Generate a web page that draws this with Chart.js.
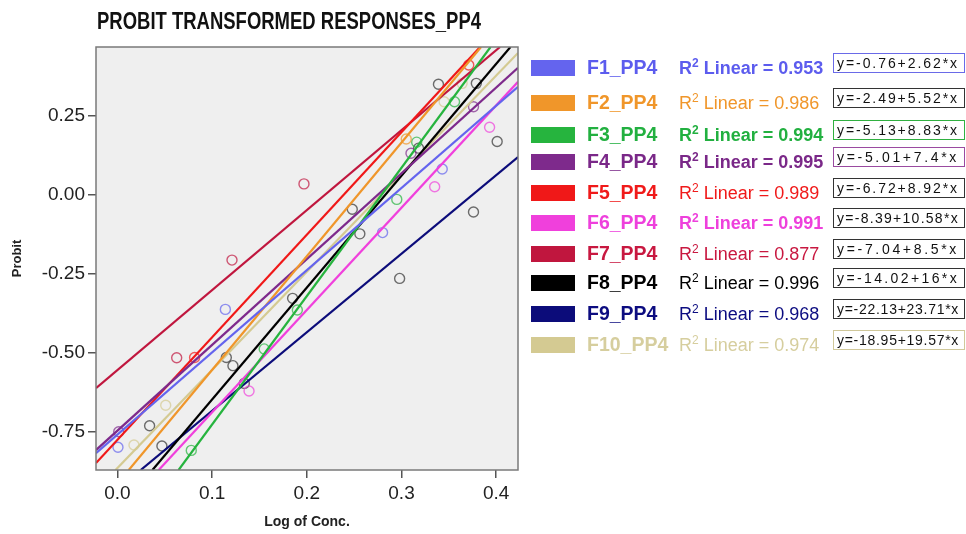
<!DOCTYPE html>
<html>
<head>
<meta charset="utf-8">
<script src="https://cdn.jsdelivr.net/npm/chart.js@4.4.1/dist/chart.umd.min.js"></script>
<style>
  html, body { margin: 0; padding: 0; background: #fff; }
  #wrap { position: relative; width: 966px; height: 534px; font-family: Arial, "Liberation Sans", sans-serif; overflow: hidden; }
  #chart { position: absolute; left: 0; top: 0; }
  #title { position: absolute; left: 97px; top: 7px; font-weight: bold; font-size: 24px; color: #111;
           white-space: nowrap; transform-origin: 0 0; transform: scaleX(0.77); }
  .sw { position: absolute; left: 531px; width: 44px; height: 16px; }
  .lb { position: absolute; left: 587px; font-weight: bold; font-size: 19.5px; line-height: 20px; white-space: nowrap; }
  .r2 { position: absolute; left: 679px; font-size: 18px; line-height: 20px; white-space: nowrap; }
  .r2 sup { font-size: 12px; line-height: 0; }
  .eq { position: absolute; left: 833px; width: 127px; height: 18px; border: 1.5px solid #444; background: #fff;
        font-size: 14px; line-height: 18px; padding-left: 3px; white-space: nowrap; color: #111; }
  .eq span { display: inline-block; }
</style>
</head>
<body>
<div id="wrap">
  <canvas id="chart" width="966" height="534"></canvas>
  <div id="title">PROBIT TRANSFORMED RESPONSES_PP4</div>
  <div id="legend"></div>
</div>
<script>
// series labels and legend text
const seriesNames = ['F1_PP4', 'F2_PP4', 'F3_PP4', 'F4_PP4', 'F5_PP4', 'F6_PP4', 'F7_PP4', 'F8_PP4', 'F9_PP4', 'F10_PP4'];
const r2Values = ['0.953', '0.986', '0.994', '0.995', '0.989', '0.991', '0.877', '0.996', '0.968', '0.974'];
const equations = ['y=-0.76+2.62*x', 'y=-2.49+5.52*x', 'y=-5.13+8.83*x', 'y=-5.01+7.4*x', 'y=-6.72+8.92*x',
                   'y=-8.39+10.58*x', 'y=-7.04+8.5*x', 'y=-14.02+16*x', 'y=-22.13+23.71*x', 'y=-18.95+19.57*x'];

// fitted lines, read where they meet the frame
const fitStartX = [-0.0226, 0.012, 0.0646, -0.0226, -0.0226, 0.0436, -0.0226, 0.037, 0.0246, -0.002];
const fitStartY = [-0.817, -0.870, -0.870, -0.807, -0.848, -0.870, -0.611, -0.870, -0.870, -0.870];
const fitEndX = [0.423, 0.384, 0.394, 0.423, 0.383, 0.423, 0.404, 0.415, 0.423, 0.423];
const fitEndY = [0.342, 0.468, 0.468, 0.402, 0.468, 0.358, 0.468, 0.468, 0.120, 0.449];

// observed points (log conc, probit)
const obsX = [
  [0.0006, 0.114, 0.280, 0.343],
  [0.305],
  [0.078, 0.155, 0.190, 0.295, 0.316, 0.356],
  [0.0014, 0.310, 0.376],
  [0.0815, 0.371],
  [0.139, 0.335, 0.393],
  [0.0626, 0.121, 0.197],
  [0.034, 0.047, 0.115, 0.122, 0.185, 0.248, 0.256, 0.318, 0.339, 0.379],
  [0.134, 0.298, 0.376, 0.401],
  [0.0175, 0.051, 0.345, 0.364]
];
const obsY = [
  [-0.798, -0.362, -0.119, 0.082],
  [0.177],
  [-0.808, -0.487, -0.364, -0.014, 0.167, 0.295],
  [-0.749, 0.132, 0.279],
  [-0.514, 0.411],
  [-0.620, 0.026, 0.214],
  [-0.515, -0.206, 0.035],
  [-0.730, -0.794, -0.514, -0.540, -0.327, -0.045, -0.123, 0.148, 0.350, 0.353],
  [-0.596, -0.264, -0.054, 0.169],
  [-0.791, -0.665, 0.295, 0.353]
];

const xTicks = [0, 0.1, 0.2, 0.3, 0.4];
const yTicks = [-0.75, -0.5, -0.25, 0, 0.25];

const lineColors = ['#6464ee', '#f0962a', '#26b43e', '#7e2a8c', '#f01818', '#f040dc', '#c0163e', '#000000', '#0c0c7a', '#d4ca92'];
const textColors = ['#5c5cee', '#f0962a', '#22b040', '#7a2888', '#f01a1a', '#ee40dc', '#c81840', '#000000', '#0c0c80', '#d6ce9e'];
const boxColors = ['#6a6ae8', '#333333', '#30b040', '#9a4aa0', '#333333', '#333333', '#333333', '#333333', '#333333', '#d0c89a'];
const boldR2 = [true, false, true, true, false, true, false, false, false, false];
const rowY = [68, 103, 135, 162, 193, 223, 254, 283, 314, 345];

function alpha(hex, a) {
  const n = parseInt(hex.slice(1), 16);
  return 'rgba(' + (n >> 16) + ',' + ((n >> 8) & 255) + ',' + (n & 255) + ',' + a + ')';
}

const datasets = [];
seriesNames.forEach((name, i) => {
  datasets.push({
    label: name + ' fit',
    data: [{ x: fitStartX[i], y: fitStartY[i] }, { x: fitEndX[i], y: fitEndY[i] }],
    showLine: true,
    borderColor: lineColors[i],
    borderWidth: 2.2,
    pointRadius: 0,
    order: 1
  });
  datasets.push({
    label: name,
    data: obsX[i].map((x, k) => ({ x: x, y: obsY[i][k] })),
    showLine: false,
    pointStyle: 'circle',
    pointRadius: 5,
    pointBorderWidth: 1.4,
    pointBackgroundColor: 'rgba(0,0,0,0)',
    pointBorderColor: alpha(i === 7 || i === 8 ? '#333333' : lineColors[i], 0.7),
    order: 2
  });
});

const framePlugin = {
  id: 'frame',
  beforeDatasetsDraw(chart) {
    const { ctx, chartArea: a } = chart;
    ctx.save();
    ctx.fillStyle = '#efefef';
    ctx.fillRect(a.left, a.top, a.right - a.left, a.bottom - a.top);
    ctx.restore();
  },
  afterDraw(chart) {
    const { ctx, chartArea: a } = chart;
    ctx.save();
    ctx.strokeStyle = '#7a7a7a';
    ctx.lineWidth = 1.5;
    ctx.strokeRect(a.left, a.top, a.right - a.left, a.bottom - a.top);
    ctx.restore();
  }
};

new Chart(document.getElementById('chart'), {
  type: 'scatter',
  data: { datasets: datasets },
  options: {
    responsive: false,
    animation: false,
    devicePixelRatio: 1,
    layout: { padding: { left: 0, top: 47, right: 448, bottom: 0 } },
    plugins: { legend: { display: false }, tooltip: { enabled: false } },
    scales: {
      x: {
        type: 'linear',
        min: -0.0226,
        max: 0.423,
        afterBuildTicks: (s) => { s.ticks = xTicks.map(v => ({ value: v })); },
        afterFit: (s) => { s.height = 64; },
        border: { display: false },
        grid: { drawOnChartArea: false, drawTicks: true, tickLength: 8, color: '#555', lineWidth: 1.5 },
        ticks: { color: '#222', font: { size: 19, family: 'Arial, "Liberation Sans"' }, padding: 4,
                 callback: (v) => Number(v).toFixed(1) },
        title: { display: true, text: 'Log of Conc.', color: '#222', padding: { top: 0, bottom: 3 },
                 font: { size: 14, weight: 'bold', family: 'Arial, "Liberation Sans"' } }
      },
      y: {
        type: 'linear',
        min: -0.870,
        max: 0.468,
        afterBuildTicks: (s) => { s.ticks = yTicks.map(v => ({ value: v })); },
        afterFit: (s) => { s.width = 96; },
        border: { display: false },
        grid: { drawOnChartArea: false, drawTicks: true, tickLength: 8, color: '#555', lineWidth: 1.5 },
        ticks: { color: '#222', font: { size: 19, family: 'Arial, "Liberation Sans"' }, padding: 3,
                 callback: (v) => Number(v).toFixed(2) },
        title: { display: true, text: 'Probit', color: '#222', padding: { top: 10, bottom: 0 },
                 font: { size: 13, weight: 'bold', family: 'Arial, "Liberation Sans"' } }
      }
    }
  },
  plugins: [framePlugin]
});

// legend on the right
const legend = document.getElementById('legend');
seriesNames.forEach((name, i) => {
  const y = rowY[i];
  const sw = document.createElement('div');
  sw.className = 'sw';
  sw.style.top = (y - 8) + 'px';
  sw.style.background = lineColors[i];
  legend.appendChild(sw);

  const lb = document.createElement('div');
  lb.className = 'lb';
  lb.style.top = (y - 11) + 'px';
  lb.style.color = textColors[i];
  lb.textContent = name;
  legend.appendChild(lb);

  const r2 = document.createElement('div');
  r2.className = 'r2';
  r2.style.top = (y - 10) + 'px';
  r2.style.color = textColors[i];
  r2.style.fontWeight = boldR2[i] ? 'bold' : 'normal';
  r2.innerHTML = 'R<sup>2</sup> Linear = ' + r2Values[i];
  legend.appendChild(r2);

  const eq = document.createElement('div');
  eq.className = 'eq';
  eq.style.top = (y - 15) + 'px';
  eq.style.borderColor = boxColors[i];
  const span = document.createElement('span');
  span.textContent = equations[i];
  eq.appendChild(span);
  legend.appendChild(eq);
  // spread the text so it fills the box like the original
  const w = span.getBoundingClientRect().width;
  const gap = Math.max(0, (122 - w) / equations[i].length);
  span.style.letterSpacing = gap.toFixed(2) + 'px';
});
</script>
</body>
</html>
